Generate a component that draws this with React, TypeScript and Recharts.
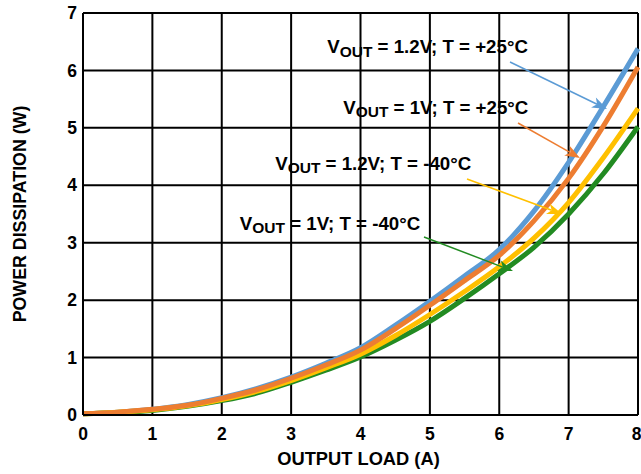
import {
  CartesianGrid,
  Line,
  LineChart,
  ReferenceDot,
  ReferenceLine,
  XAxis,
  YAxis,
} from "recharts";

const load = [0, 0.5, 1, 1.5, 2, 2.5, 3, 3.5, 4, 4.5, 5, 5.5, 6, 6.5, 7, 7.5, 8];
const v12Hot = [0.02, 0.05, 0.1, 0.18, 0.3, 0.46, 0.66, 0.9, 1.17, 1.56, 1.98, 2.42, 2.88, 3.55, 4.4, 5.37, 6.38];
const v1Hot = [0.02, 0.05, 0.1, 0.17, 0.29, 0.44, 0.64, 0.87, 1.13, 1.5, 1.91, 2.34, 2.78, 3.38, 4.12, 5.03, 6.06];
const v12Cold = [0.02, 0.05, 0.09, 0.16, 0.27, 0.41, 0.6, 0.82, 1.06, 1.38, 1.75, 2.15, 2.58, 3.08, 3.7, 4.48, 5.34];
const v1Cold = [0.02, 0.04, 0.08, 0.15, 0.25, 0.38, 0.57, 0.78, 1.01, 1.3, 1.63, 2.03, 2.46, 2.92, 3.5, 4.2, 5.02];

const xTicks = [0, 1, 2, 3, 4, 5, 6, 7, 8];
const yTicks = [0, 1, 2, 3, 4, 5, 6, 7];

const BLUE = "#5b9bd5";
const ORANGE = "#ed7d31";
const YELLOW = "#ffc000";
const GREEN = "#228b22";
const FONT = "'Liberation Sans', Arial, sans-serif";

// callouts: label anchor (data coords) and arrow from/to
const notes = [
  { v: "1.2V", t: "+25°C", x: 3.52, y: 6.3, color: BLUE, from: [6.155, 6.147], to: [7.553, 5.328] },
  { v: "1V", t: "+25°C", x: 3.75, y: 5.25, color: ORANGE, from: [6.27, 5.085], to: [7.164, 4.475] },
  { v: "1.2V", t: "-40°C", x: 2.77, y: 4.27, color: YELLOW, from: [5.535, 4.109], to: [6.905, 3.5] },
  { v: "1V", t: "-40°C", x: 2.26, y: 3.23, color: GREEN, from: [4.915, 3.1], to: [6.198, 2.507] },
];

const data = load.map((x, i) => ({
  x,
  a: v12Hot[i],
  b: v1Hot[i],
  c: v12Cold[i],
  d: v1Cold[i],
}));

function arrowShape(color: string) {
  return (p: any) => {
    const { x1, y1, x2, y2 } = p;
    const dx = x2 - x1;
    const dy = y2 - y1;
    const len = Math.sqrt(dx * dx + dy * dy);
    const ux = dx / len;
    const uy = dy / len;
    const head = 15;
    const half = 5.5;
    const bx = x2 - ux * head;
    const by = y2 - uy * head;
    const nx = x2 - ux * (head - 4);
    const ny = y2 - uy * (head - 4);
    const pts = [
      [x2, y2],
      [bx - uy * half, by + ux * half],
      [nx, ny],
      [bx + uy * half, by - ux * half],
    ]
      .map((q) => q.join(","))
      .join(" ");
    return (
      <g>
        <line x1={x1} y1={y1} x2={nx} y2={ny} stroke={color} strokeWidth={1.5} />
        <polygon points={pts} fill={color} />
      </g>
    );
  };
}

function noteShape(v: string, t: string) {
  return (p: any) => (
    <text
      x={p.cx}
      y={p.cy}
      fontFamily={FONT}
      fontWeight="bold"
      fontSize={18.7}
      fill="#000"
    >
      V
      <tspan fontSize={15.5} dy={3.5}>OUT</tspan>
      <tspan dy={-3.5}>{` = ${v}; T = ${t}`}</tspan>
    </text>
  );
}

export default function App() {
  return (
    <div style={{ position: "absolute", left: 0, top: 0, background: "#fff" }}>
      <LineChart
        width={641}
        height={474}
        data={data}
        margin={{ top: 13, right: 3, bottom: 9, left: 0 }}
      >
        <CartesianGrid stroke="#000" strokeWidth={2} />
        <XAxis
          dataKey="x"
          type="number"
          domain={[0, 8]}
          ticks={xTicks}
          height={50}
          axisLine={{ stroke: "#000", strokeWidth: 2 }}
          tickLine={false}
          tickSize={0}
          tickMargin={13}
          tick={{ fill: "#000", fontSize: 17.5, fontWeight: "bold", fontFamily: FONT }}
          label={{
            content: (p: any) => {
              const vb = p.viewBox;
              return (
                <text
                  x={vb.x + vb.width / 2 - 2}
                  y={458}
                  textAnchor="middle"
                  dominantBaseline="central"
                  fontFamily={FONT}
                  fontWeight="bold"
                  fontSize={18.3}
                  fill="#000"
                >
                  OUTPUT LOAD (A)
                </text>
              );
            },
          }}
        />
        <YAxis
          type="number"
          domain={[0, 7]}
          ticks={yTicks}
          width={83}
          axisLine={{ stroke: "#000", strokeWidth: 2 }}
          tickLine={false}
          tickSize={0}
          tickMargin={6}
          tick={{ fill: "#000", fontSize: 17.5, fontWeight: "bold", fontFamily: FONT }}
          label={{
            content: (p: any) => {
              const vb = p.viewBox;
              const cy = vb.y + vb.height / 2;
              return (
                <text
                  x={20}
                  y={cy}
                  transform={`rotate(-90, 20, ${cy})`}
                  textAnchor="middle"
                  dominantBaseline="central"
                  fontFamily={FONT}
                  fontWeight="bold"
                  fontSize={17.8}
                  fill="#000"
                >
                  POWER DISSIPATION (W)
                </text>
              );
            },
          }}
        />
        <Line type="monotone" dataKey="a" stroke={BLUE} strokeWidth={5} dot={false} isAnimationActive={false} />
        <Line type="monotone" dataKey="d" stroke={GREEN} strokeWidth={5} dot={false} isAnimationActive={false} />
        <Line type="monotone" dataKey="c" stroke={YELLOW} strokeWidth={5} dot={false} isAnimationActive={false} />
        <Line type="monotone" dataKey="b" stroke={ORANGE} strokeWidth={5} dot={false} isAnimationActive={false} />
        {notes.map((n, i) => (
          <ReferenceLine
            key={`arrow-${i}`}
            segment={[
              { x: n.from[0], y: n.from[1] },
              { x: n.to[0], y: n.to[1] },
            ]}
            shape={arrowShape(n.color)}
          />
        ))}
        {notes.map((n, i) => (
          <ReferenceDot key={`note-${i}`} x={n.x} y={n.y} r={0} shape={noteShape(n.v, n.t)} />
        ))}
      </LineChart>
    </div>
  );
}
